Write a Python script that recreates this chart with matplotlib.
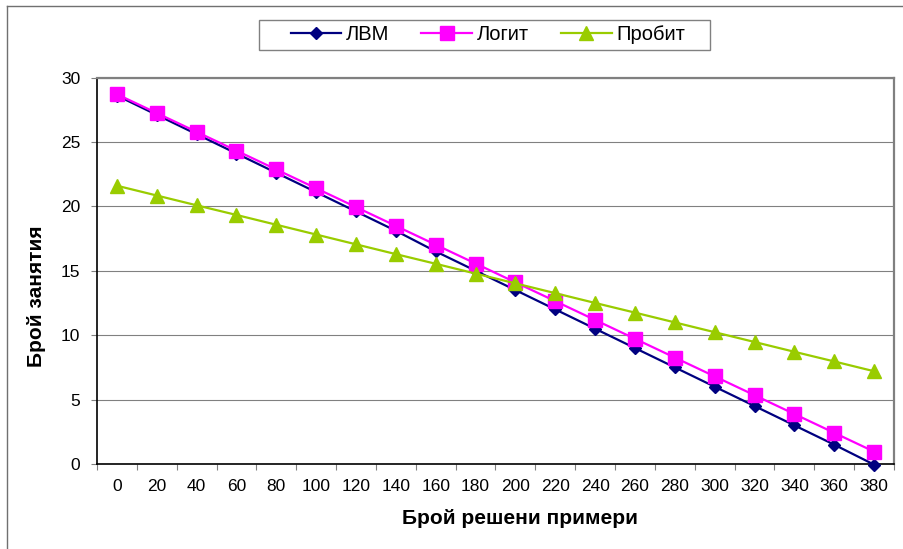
import matplotlib
matplotlib.use("Agg")
import matplotlib.pyplot as plt
from matplotlib.lines import Line2D
from matplotlib.patches import Rectangle

plt.rcParams['font.family'] = ['Liberation Sans', 'DejaVu Sans']

categories = [0, 20, 40, 60, 80, 100, 120, 140, 160, 180,
              200, 220, 240, 260, 280, 300, 320, 340, 360, 380]
lvm = [28.6, 27.1, 25.6, 24.1, 22.6, 21.1, 19.6, 18.1, 16.5, 15.0,
       13.5, 12.0, 10.5, 9.0, 7.5, 6.0, 4.5, 3.0, 1.5, -0.05]
logit = [28.7, 27.24, 25.78, 24.32, 22.86, 21.4, 19.94, 18.48, 17.02, 15.56,
         14.1, 12.64, 11.18, 9.72, 8.26, 6.8, 5.34, 3.88, 2.42, 0.96]
probit = [21.6, 20.84, 20.08, 19.33, 18.57, 17.81, 17.05, 16.29, 15.54, 14.78,
          14.02, 13.26, 12.5, 11.75, 10.99, 10.23, 9.47, 8.71, 7.96, 7.2]
y_ticks = [0, 5, 10, 15, 20, 25, 30]

W, H = 904, 549
fig = plt.figure(figsize=(W / 100, H / 100), dpi=100)
ax = fig.add_axes([97 / W, 1 - 464 / H, 797 / W, 386.5 / H])

pos = list(range(len(categories)))
ax.plot(pos, lvm, color='#000080', lw=1.6, marker='D', markersize=6.2,
        markerfacecolor='#000080', markeredgecolor='#000080', label='ЛВМ',
        clip_on=False, zorder=3)
ax.plot(pos, logit, color='#FF00FF', lw=1.6, marker='s', markersize=9.5,
        markerfacecolor='#FF00FF', markeredgecolor='#FF00FF', label='Логит',
        clip_on=False, zorder=4)
ax.plot(pos, probit, color='#99CC00', lw=1.6, marker='^', markersize=9.5,
        markerfacecolor='#99CC00', markeredgecolor='#99CC00', label='Пробит',
        clip_on=False, zorder=5)

ax.set_xlim(-0.5, len(categories) - 0.5)
ax.set_ylim(0, 30)
ax.set_yticks(y_ticks)
ax.set_xticks(pos)
ax.set_xticklabels([str(c) for c in categories])
ax.set_xticks([p - 0.5 for p in pos] + [len(pos) - 0.5], minor=True)
ax.tick_params(axis='x', which='major', length=0, pad=11, labelsize=12.5)
ax.tick_params(axis='x', which='minor', length=4, width=0.8, direction='out',
               color='#808080')
ax.tick_params(axis='y', length=4, width=0.8, direction='out', pad=8,
               labelsize=12.5, color='#808080')

ax.grid(axis='y', color='#808080', lw=0.8)
ax.set_axisbelow(True)
for side in ('left', 'bottom'):
    ax.spines[side].set_color('black')
    ax.spines[side].set_linewidth(1.2)
for side in ('top', 'right'):
    ax.spines[side].set_color('#808080')
    ax.spines[side].set_linewidth(1.6)

fig.text(520 / W, 1 - 519 / H, 'Брой решени примери', ha='center',
         va='center', fontsize=15, fontweight='bold')
fig.text(37 / W, 1 - 296 / H, 'Брой занятия', ha='center', va='center',
         rotation=90, fontsize=15, fontweight='bold')

# legend entries, with a separate frame box around them
leg = fig.legend(loc='center', bbox_to_anchor=(488 / W, 1 - 35 / H),
                 ncol=3, fontsize=14.5, frameon=False,
                 handlelength=2.5, handletextpad=0.25, columnspacing=1.6,
                 borderpad=0.3, borderaxespad=0)
fig.add_artist(Rectangle((259 / W, 1 - 50 / H), 451 / W, 30 / H,
                         transform=fig.transFigure, fill=False,
                         edgecolor='#808080', lw=1.0))

# chart area border (left and top edges)
fig.add_artist(Line2D([7 / W, 7 / W], [0, 1 - 6 / H], color='#707070', lw=1.0))
fig.add_artist(Line2D([7 / W, 1], [1 - 6 / H, 1 - 6 / H], color='#707070', lw=1.0))

fig.savefig('out.png', dpi=100)
